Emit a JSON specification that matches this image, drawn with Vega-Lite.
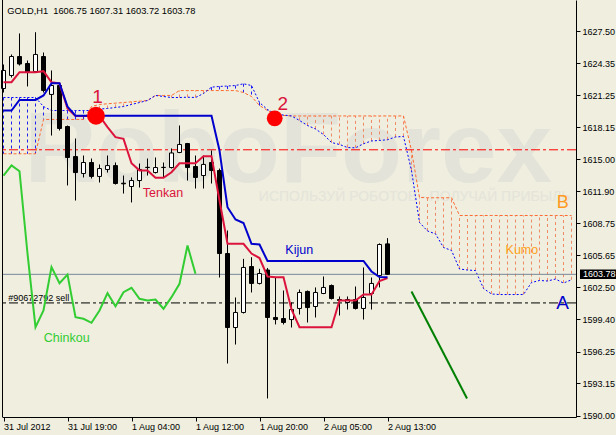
{
"$schema": "https://vega.github.io/schema/vega-lite/v6.json",
"width": 574, "height": 417,
"autosize": {"type": "none"},
"padding": {"left": 2, "top": 0, "right": 40, "bottom": 18},
"background": "#EFEEDF",
"config": {"view": {"stroke": null}, "font": "Liberation Sans", "scale": {"continuousPadding": 0}},
"datasets": {
"bars": [
{"i":0,"o":1621.91,"h":1624.25,"l":1621.52,"c":1623.67},
{"i":1,"o":1623.18,"h":1625.23,"l":1622.98,"c":1625.03},
{"i":2,"o":1625.03,"h":1627.28,"l":1624.15,"c":1624.30},
{"i":3,"o":1624.35,"h":1624.64,"l":1622.11,"c":1623.47},
{"i":4,"o":1623.57,"h":1627.40,"l":1623.47,"c":1625.23},
{"i":5,"o":1625.03,"h":1625.42,"l":1621.52,"c":1621.72},
{"i":6,"o":1621.33,"h":1623.67,"l":1617.32,"c":1622.20},
{"i":7,"o":1622.20,"h":1622.40,"l":1617.81,"c":1618.01},
{"i":8,"o":1618.20,"h":1618.30,"l":1612.45,"c":1615.18},
{"i":9,"o":1615.27,"h":1617.03,"l":1610.98,"c":1613.71},
{"i":10,"o":1613.62,"h":1615.37,"l":1613.23,"c":1614.69},
{"i":11,"o":1614.69,"h":1615.08,"l":1613.13,"c":1613.33},
{"i":12,"o":1613.33,"h":1614.50,"l":1612.74,"c":1614.10},
{"i":13,"o":1614.01,"h":1615.37,"l":1613.71,"c":1614.39},
{"i":14,"o":1614.39,"h":1614.69,"l":1612.54,"c":1612.64},
{"i":15,"o":1612.67,"h":1613.42,"l":1611.66,"c":1612.61},
{"i":16,"o":1612.35,"h":1613.23,"l":1610.79,"c":1612.93},
{"i":17,"o":1612.93,"h":1614.59,"l":1612.25,"c":1614.01},
{"i":18,"o":1614.20,"h":1615.08,"l":1613.42,"c":1614.22},
{"i":19,"o":1613.71,"h":1615.18,"l":1613.62,"c":1614.20},
{"i":20,"o":1614.20,"h":1614.69,"l":1613.23,"c":1614.22},
{"i":21,"o":1614.20,"h":1616.06,"l":1614.10,"c":1615.62},
{"i":22,"o":1615.67,"h":1618.30,"l":1615.60,"c":1616.45},
{"i":23,"o":1616.54,"h":1616.60,"l":1612.93,"c":1614.20},
{"i":24,"o":1614.30,"h":1615.37,"l":1612.15,"c":1613.23},
{"i":25,"o":1613.42,"h":1615.37,"l":1612.15,"c":1614.50},
{"i":26,"o":1614.69,"h":1615.86,"l":1612.64,"c":1613.91},
{"i":27,"o":1613.91,"h":1614.10,"l":1603.47,"c":1605.81},
{"i":28,"o":1605.81,"h":1608.06,"l":1595.08,"c":1598.59},
{"i":29,"o":1598.59,"h":1601.52,"l":1596.93,"c":1600.06},
{"i":30,"o":1600.06,"h":1605.29,"l":1599.96,"c":1604.45},
{"i":31,"o":1604.54,"h":1605.45,"l":1602.01,"c":1602.89},
{"i":32,"o":1602.89,"h":1604.32,"l":1602.79,"c":1603.86},
{"i":33,"o":1604.20,"h":1604.40,"l":1591.67,"c":1599.57},
{"i":34,"o":1599.57,"h":1603.47,"l":1598.89,"c":1599.37},
{"i":35,"o":1599.47,"h":1602.20,"l":1598.89,"c":1599.08},
{"i":36,"o":1599.37,"h":1601.03,"l":1598.59,"c":1600.35},
{"i":37,"o":1600.45,"h":1602.30,"l":1599.86,"c":1602.01},
{"i":38,"o":1602.11,"h":1602.20,"l":1599.08,"c":1600.54},
{"i":39,"o":1600.64,"h":1602.50,"l":1599.57,"c":1602.01},
{"i":40,"o":1601.91,"h":1603.57,"l":1601.85,"c":1602.50},
{"i":41,"o":1602.69,"h":1602.79,"l":1601.32,"c":1601.42},
{"i":42,"o":1601.32,"h":1601.62,"l":1599.76,"c":1601.23},
{"i":43,"o":1601.03,"h":1601.62,"l":1600.35,"c":1601.32},
{"i":44,"o":1601.32,"h":1602.59,"l":1600.35,"c":1600.45},
{"i":45,"o":1600.45,"h":1604.45,"l":1599.37,"c":1601.52},
{"i":46,"o":1601.91,"h":1603.47,"l":1600.35,"c":1602.89},
{"i":47,"o":1603.67,"h":1606.80,"l":1602.50,"c":1606.69},
{"i":48,"o":1606.75,"h":1607.31,"l":1603.72,"c":1603.78}
],
"ind": [
{"i":0,"t":1622.52,"k":1619.76},{"i":1,"t":1622.52,"k":1619.76},{"i":2,"t":1623.50,"k":1620.79},
{"i":3,"t":1623.50,"k":1620.79},{"i":4,"t":1623.50,"k":1620.79},{"i":5,"t":1623.60,"k":1621.23},
{"i":6,"t":1622.52,"k":1622.43},{"i":7,"t":1622.40,"k":1622.43},{"i":8,"t":1619.96,"k":1620.15},
{"i":9,"t":1619.23,"k":1619.25},{"i":10,"t":1619.23,"k":1619.25},{"i":11,"t":1619.23,"k":1619.25},
{"i":12,"t":1619.23,"k":1619.25},{"i":13,"t":1618.15,"k":1619.25},{"i":14,"t":1617.16,"k":1619.25},
{"i":15,"t":1617.00,"k":1619.25},{"i":16,"t":1614.62,"k":1619.25},{"i":17,"t":1613.91,"k":1619.25},
{"i":18,"t":1613.91,"k":1619.25},{"i":19,"t":1613.20,"k":1619.25},{"i":20,"t":1613.20,"k":1619.25},
{"i":21,"t":1613.74,"k":1619.25},{"i":22,"t":1614.62,"k":1619.25},{"i":23,"t":1614.62,"k":1619.25},
{"i":24,"t":1614.62,"k":1619.25},{"i":25,"t":1615.31,"k":1619.25},{"i":26,"t":1615.31,"k":1619.25},
{"i":27,"t":1610.98,"k":1615.86},{"i":28,"t":1606.76,"k":1610.33},{"i":29,"t":1606.76,"k":1609.13},
{"i":30,"t":1606.76,"k":1608.79},{"i":31,"t":1605.81,"k":1606.76},{"i":32,"t":1605.37,"k":1606.69},
{"i":33,"t":1603.57,"k":1605.08},{"i":34,"t":1603.50,"k":1605.08},{"i":35,"t":1603.50,"k":1605.08},
{"i":36,"t":1600.35,"k":1605.08},{"i":37,"t":1598.62,"k":1605.08},{"i":38,"t":1598.62,"k":1605.08},
{"i":39,"t":1598.62,"k":1605.08},{"i":40,"t":1598.62,"k":1605.08},{"i":41,"t":1598.62,"k":1605.08},
{"i":42,"t":1601.23,"k":1605.08},{"i":43,"t":1601.23,"k":1605.08},{"i":44,"t":1601.23,"k":1605.08},
{"i":45,"t":1601.81,"k":1605.08},{"i":46,"t":1601.81,"k":1604.06},{"i":47,"t":1603.13,"k":1603.52},
{"i":48,"t":1603.42,"k":1603.50}
],
"chinkou": [
{"i":0,"v":1613.42},{"i":1,"v":1614.40},{"i":2,"v":1613.84},{"i":3,"v":1605.81},{"i":4,"v":1598.62},
{"i":5,"v":1600.25},{"i":6,"v":1604.48},{"i":7,"v":1602.92},{"i":8,"v":1603.76},{"i":9,"v":1599.60},
{"i":10,"v":1599.44},{"i":11,"v":1599.05},{"i":12,"v":1600.25},{"i":13,"v":1601.94},{"i":14,"v":1600.67},
{"i":15,"v":1602.04},{"i":16,"v":1602.47},{"i":17,"v":1601.39},{"i":18,"v":1601.23},{"i":19,"v":1601.32},
{"i":20,"v":1600.42},{"i":21,"v":1601.55},{"i":22,"v":1602.86},{"i":23,"v":1606.59},{"i":24,"v":1603.83}
],
"cloud": [
{"i":0,"a":1621.03,"b":1615.54},{"i":1,"a":1621.03,"b":1615.54},{"i":2,"a":1621.03,"b":1615.54},
{"i":3,"a":1621.03,"b":1615.54},{"i":4,"a":1621.03,"b":1615.54},{"i":5,"a":1620.15,"b":1618.89},
{"i":6,"a":1619.76,"b":1618.89},{"i":7,"a":1619.76,"b":1618.89},{"i":8,"a":1619.76,"b":1618.89},
{"i":9,"a":1619.76,"b":1618.89},{"i":10,"a":1619.76,"b":1618.89},{"i":11,"a":1619.76,"b":1620.15},
{"i":12,"a":1619.91,"b":1620.35},{"i":13,"a":1619.96,"b":1620.42},{"i":14,"a":1620.06,"b":1620.48},
{"i":15,"a":1620.15,"b":1620.54},{"i":16,"a":1620.35,"b":1620.61},{"i":17,"a":1620.54,"b":1620.67},
{"i":18,"a":1620.74,"b":1620.74},{"i":19,"a":1621.23,"b":1621.23},{"i":20,"a":1621.13,"b":1621.23},
{"i":21,"a":1621.03,"b":1621.23},{"i":22,"a":1621.03,"b":1621.71},{"i":23,"a":1621.06,"b":1621.71},
{"i":24,"a":1621.03,"b":1621.71},{"i":25,"a":1621.42,"b":1621.71},{"i":26,"a":1622.04,"b":1621.71},
{"i":27,"a":1622.11,"b":1621.71},{"i":28,"a":1622.15,"b":1621.71},{"i":29,"a":1622.20,"b":1621.71},
{"i":30,"a":1622.37,"b":1621.52},{"i":31,"a":1622.20,"b":1621.13},{"i":32,"a":1620.54,"b":1620.25},
{"i":33,"a":1619.86,"b":1619.76},{"i":34,"a":1619.42,"b":1619.42},{"i":35,"a":1619.32,"b":1619.28},
{"i":36,"a":1619.23,"b":1619.23},{"i":37,"a":1618.79,"b":1619.23},{"i":38,"a":1618.30,"b":1619.23},
{"i":39,"a":1617.96,"b":1619.23},{"i":40,"a":1617.42,"b":1619.23},{"i":41,"a":1616.64,"b":1619.23},
{"i":42,"a":1616.45,"b":1619.23},{"i":43,"a":1616.15,"b":1619.23},{"i":44,"a":1616.12,"b":1619.23},
{"i":45,"a":1616.52,"b":1619.23},{"i":46,"a":1616.79,"b":1619.23},{"i":47,"a":1616.84,"b":1619.23},
{"i":48,"a":1616.91,"b":1619.23},{"i":49,"a":1617.18,"b":1619.23},{"i":50,"a":1617.23,"b":1619.23},
{"i":51,"a":1613.91,"b":1615.86},{"i":52,"a":1608.84,"b":1611.28},{"i":53,"a":1608.01,"b":1611.25},
{"i":54,"a":1607.73,"b":1611.25},{"i":55,"a":1606.40,"b":1611.25},{"i":56,"a":1606.11,"b":1611.25},
{"i":57,"a":1604.30,"b":1609.52},{"i":58,"a":1604.20,"b":1609.52},{"i":59,"a":1604.15,"b":1609.52},
{"i":60,"a":1602.40,"b":1609.52},{"i":61,"a":1601.86,"b":1609.52},{"i":62,"a":1601.81,"b":1609.52},
{"i":63,"a":1601.81,"b":1609.52},{"i":64,"a":1601.81,"b":1609.52},{"i":65,"a":1601.81,"b":1609.52},
{"i":66,"a":1602.98,"b":1609.52},{"i":67,"a":1603.18,"b":1609.52},{"i":68,"a":1603.13,"b":1609.52},
{"i":69,"a":1603.32,"b":1609.52},{"i":70,"a":1602.93,"b":1609.52},{"i":71,"a":1603.25,"b":1609.52}
]
},
"layer": [
{"data": {"values": [{"i": 35.6, "p": 1612.74, "txt": "RoboForex"}]},
 "mark": {"type": "text", "font": "Liberation Sans", "fontWeight": "bold", "fontSize": 100, "align": "center", "baseline": "alphabetic", "color": "#E3E3D9"},
 "encoding": {"x": {"field": "i", "type": "quantitative", "scale": {"domain": [-0.1875, 71.5625], "nice": false, "zero": false, "padding": 0},
   "axis": {"values": [0, 8, 16, 24, 32, 40, 48], "tickCount": 40, "labelExpr": "['31 Jul 2012','31 Jul 19:00','1 Aug 04:00','1 Aug 12:00','1 Aug 20:00','2 Aug 05:00','2 Aug 13:00'][round(datum.value/8)]",
     "title": null, "grid": false, "tickSize": 4, "labelAlign": "left", "labelBaseline": "alphabetic", "labelPadding": 8, "labelFontSize": 9, "labelFont": "Liberation Sans", "labelColor": "#000000", "domainColor": "#000000", "tickColor": "#000000", "labelOverlap": false, "labelFlush": false, "labelBound": false}},
  "y": {"field": "p", "type": "quantitative", "scale": {"domain": [1589.861, 1630.544], "nice": false, "zero": false},
   "axis": {"orient": "right", "values": [1590, 1593.15, 1596.25, 1599.4, 1602.5, 1605.65, 1608.75, 1611.9, 1615, 1618.15, 1621.25, 1624.35, 1627.5], "tickCount": 40, "format": ".2f",
     "title": null, "grid": false, "tickSize": 4, "labelPadding": 2, "labelFontSize": 9, "labelFont": "Liberation Sans", "labelColor": "#000000", "domainColor": "#000000", "tickColor": "#000000", "labelOverlap": false, "labelFlush": false, "labelBound": false}},
  "text": {"field": "txt"}}},
{"data": {"values": [{"i": 51.4, "p": 1610.93, "txt": "ИСПОЛЬЗУЙ РОБОТОВ - ПОЛУЧАЙ ПРИБЫЛЬ"}]},
 "mark": {"type": "text", "fontSize": 14, "align": "center", "baseline": "alphabetic", "color": "#E4E4DA"},
 "encoding": {"x": {"field": "i", "type": "quantitative", "scale": {"domain": [-0.1875, 71.5625], "nice": false, "zero": false, "padding": 0}},
  "y": {"field": "p", "type": "quantitative", "scale": {"domain": [1589.861, 1630.544], "nice": false, "zero": false}},
  "text": {"field": "txt"}}},
{"data": {"name": "cloud"},
 "mark": {"type": "rule", "strokeWidth": 1, "strokeDash": [3, 3]},
 "encoding": {"x": {"field": "i", "type": "quantitative", "scale": {"domain": [-0.1875, 71.5625], "nice": false, "zero": false, "padding": 0}},
  "y": {"field": "a", "type": "quantitative", "scale": {"domain": [1589.861, 1630.544], "nice": false, "zero": false}},
  "y2": {"field": "b"},
  "color": {"condition": {"test": "datum.a > datum.b", "value": "#2020F0"}, "value": "#F08A66"}}},
{"data": {"name": "cloud"},
 "mark": {"type": "line", "strokeWidth": 1, "strokeDash": [3, 2], "color": "#FF6A2E"},
 "encoding": {"x": {"field": "i", "type": "quantitative", "scale": {"domain": [-0.1875, 71.5625], "nice": false, "zero": false, "padding": 0}},
  "y": {"field": "b", "type": "quantitative", "scale": {"domain": [1589.861, 1630.544], "nice": false, "zero": false}}}},
{"data": {"name": "cloud"},
 "mark": {"type": "line", "strokeWidth": 1, "strokeDash": [2, 2], "color": "#0000FF"},
 "encoding": {"x": {"field": "i", "type": "quantitative", "scale": {"domain": [-0.1875, 71.5625], "nice": false, "zero": false, "padding": 0}},
  "y": {"field": "a", "type": "quantitative", "scale": {"domain": [1589.861, 1630.544], "nice": false, "zero": false}}}},
{"data": {"values": [{"p": 1615.93}]},
 "mark": {"type": "rule", "color": "#FF0000", "strokeWidth": 1, "strokeDash": [9, 3, 3, 3]},
 "encoding": {"y": {"field": "p", "type": "quantitative", "scale": {"domain": [1589.861, 1630.544], "nice": false, "zero": false}}}},
{"data": {"values": [{"p": 1600.99}]},
 "mark": {"type": "rule", "color": "#000000", "strokeWidth": 1, "strokeDash": [9, 3, 3, 3]},
 "encoding": {"y": {"field": "p", "type": "quantitative", "scale": {"domain": [1589.861, 1630.544], "nice": false, "zero": false}}}},
{"data": {"values": [{"p": 1603.78}]},
 "mark": {"type": "rule", "color": "#778899", "strokeWidth": 1},
 "encoding": {"y": {"field": "p", "type": "quantitative", "scale": {"domain": [1589.861, 1630.544], "nice": false, "zero": false}}}},
{"data": {"values": [{"i": 0.6, "p": 1601.2, "txt": "#90672792 sell"}]},
 "mark": {"type": "text", "fontSize": 9, "align": "left", "baseline": "alphabetic", "color": "#000000"},
 "encoding": {"x": {"field": "i", "type": "quantitative", "scale": {"domain": [-0.1875, 71.5625], "nice": false, "zero": false, "padding": 0}},
  "y": {"field": "p", "type": "quantitative", "scale": {"domain": [1589.861, 1630.544], "nice": false, "zero": false}},
  "text": {"field": "txt"}}},
{"data": {"name": "bars"},
 "mark": {"type": "rule", "color": "#000000", "strokeWidth": 1},
 "encoding": {"x": {"field": "i", "type": "quantitative", "scale": {"domain": [-0.1875, 71.5625], "nice": false, "zero": false, "padding": 0}},
  "y": {"field": "l", "type": "quantitative", "scale": {"domain": [1589.861, 1630.544], "nice": false, "zero": false}},
  "y2": {"field": "h"}}},
{"data": {"name": "bars"},
 "mark": {"type": "bar", "size": 4, "stroke": "#000000", "strokeWidth": 1, "orient": "vertical"},
 "encoding": {"x": {"field": "i", "type": "quantitative", "scale": {"domain": [-0.1875, 71.5625], "nice": false, "zero": false, "padding": 0}},
  "y": {"field": "o", "type": "quantitative", "scale": {"domain": [1589.861, 1630.544], "nice": false, "zero": false}},
  "y2": {"field": "c"},
  "fill": {"condition": {"test": "datum.c >= datum.o", "value": "#FFFFFF"}, "value": "#000000"}}},
{"data": {"name": "chinkou"},
 "mark": {"type": "line", "strokeWidth": 2, "color": "#32CD32"},
 "encoding": {"x": {"field": "i", "type": "quantitative", "scale": {"domain": [-0.1875, 71.5625], "nice": false, "zero": false, "padding": 0}},
  "y": {"field": "v", "type": "quantitative", "scale": {"domain": [1589.861, 1630.544], "nice": false, "zero": false}}}},
{"data": {"name": "ind"},
 "mark": {"type": "line", "strokeWidth": 2, "color": "#DC143C"},
 "encoding": {"x": {"field": "i", "type": "quantitative", "scale": {"domain": [-0.1875, 71.5625], "nice": false, "zero": false, "padding": 0}},
  "y": {"field": "t", "type": "quantitative", "scale": {"domain": [1589.861, 1630.544], "nice": false, "zero": false}}}},
{"data": {"name": "ind"},
 "mark": {"type": "line", "strokeWidth": 2, "color": "#0000CD"},
 "encoding": {"x": {"field": "i", "type": "quantitative", "scale": {"domain": [-0.1875, 71.5625], "nice": false, "zero": false, "padding": 0}},
  "y": {"field": "k", "type": "quantitative", "scale": {"domain": [1589.861, 1630.544], "nice": false, "zero": false}}}},
{"data": {"values": [{"i": 51.0, "p": 1602.10}, {"i": 57.94, "p": 1591.67}]},
 "mark": {"type": "line", "strokeWidth": 2, "color": "#008000"},
 "encoding": {"x": {"field": "i", "type": "quantitative", "scale": {"domain": [-0.1875, 71.5625], "nice": false, "zero": false, "padding": 0}},
  "y": {"field": "p", "type": "quantitative", "scale": {"domain": [1589.861, 1630.544], "nice": false, "zero": false}}}},
{"data": {"values": [{"i": 11.56, "p": 1619.25}]},
 "mark": {"type": "point", "shape": "circle", "filled": true, "size": 320, "color": "#FF0000", "opacity": 1},
 "encoding": {"x": {"field": "i", "type": "quantitative", "scale": {"domain": [-0.1875, 71.5625], "nice": false, "zero": false, "padding": 0}},
  "y": {"field": "p", "type": "quantitative", "scale": {"domain": [1589.861, 1630.544], "nice": false, "zero": false}}}},
{"data": {"values": [{"i": 33.9, "p": 1619.0}]},
 "mark": {"type": "point", "shape": "circle", "filled": true, "size": 250, "color": "#FF0000", "opacity": 1},
 "encoding": {"x": {"field": "i", "type": "quantitative", "scale": {"domain": [-0.1875, 71.5625], "nice": false, "zero": false, "padding": 0}},
  "y": {"field": "p", "type": "quantitative", "scale": {"domain": [1589.861, 1630.544], "nice": false, "zero": false}}}},
{"data": {"values": [{"i": 11.75, "p": 1620.54, "txt": "1"}, {"i": 34.9, "p": 1619.81, "txt": "2"}]},
 "mark": {"type": "text", "fontSize": 19, "align": "center", "baseline": "alphabetic", "color": "#DC143C"},
 "encoding": {"x": {"field": "i", "type": "quantitative", "scale": {"domain": [-0.1875, 71.5625], "nice": false, "zero": false, "padding": 0}},
  "y": {"field": "p", "type": "quantitative", "scale": {"domain": [1589.861, 1630.544], "nice": false, "zero": false}},
  "text": {"field": "txt"}}},
{"data": {"values": [{"i": 19.94, "p": 1611.37, "txt": "Tenkan"}]},
 "mark": {"type": "text", "fontSize": 12.5, "align": "center", "baseline": "alphabetic", "color": "#DC143C"},
 "encoding": {"x": {"field": "i", "type": "quantitative", "scale": {"domain": [-0.1875, 71.5625], "nice": false, "zero": false, "padding": 0}},
  "y": {"field": "p", "type": "quantitative", "scale": {"domain": [1589.861, 1630.544], "nice": false, "zero": false}},
  "text": {"field": "txt"}}},
{"data": {"values": [{"i": 36.97, "p": 1605.81, "txt": "Kijun"}]},
 "mark": {"type": "text", "fontSize": 12.5, "align": "center", "baseline": "alphabetic", "color": "#0000CD"},
 "encoding": {"x": {"field": "i", "type": "quantitative", "scale": {"domain": [-0.1875, 71.5625], "nice": false, "zero": false, "padding": 0}},
  "y": {"field": "p", "type": "quantitative", "scale": {"domain": [1589.861, 1630.544], "nice": false, "zero": false}},
  "text": {"field": "txt"}}},
{"data": {"values": [{"i": 7.9, "p": 1597.13, "txt": "Chinkou"}]},
 "mark": {"type": "text", "fontSize": 12.5, "align": "center", "baseline": "alphabetic", "color": "#32CD32"},
 "encoding": {"x": {"field": "i", "type": "quantitative", "scale": {"domain": [-0.1875, 71.5625], "nice": false, "zero": false, "padding": 0}},
  "y": {"field": "p", "type": "quantitative", "scale": {"domain": [1589.861, 1630.544], "nice": false, "zero": false}},
  "text": {"field": "txt"}}},
{"data": {"values": [{"i": 64.8, "p": 1605.81, "txt": "Kumo"}]},
 "mark": {"type": "text", "fontSize": 12.5, "align": "center", "baseline": "alphabetic", "color": "#FFA020"},
 "encoding": {"x": {"field": "i", "type": "quantitative", "scale": {"domain": [-0.1875, 71.5625], "nice": false, "zero": false, "padding": 0}},
  "y": {"field": "p", "type": "quantitative", "scale": {"domain": [1589.861, 1630.544], "nice": false, "zero": false}},
  "text": {"field": "txt"}}},
{"data": {"values": [{"i": 69.9, "p": 1610.25, "txt": "B"}]},
 "mark": {"type": "text", "fontSize": 18, "align": "center", "baseline": "alphabetic", "color": "#FF9A1E"},
 "encoding": {"x": {"field": "i", "type": "quantitative", "scale": {"domain": [-0.1875, 71.5625], "nice": false, "zero": false, "padding": 0}},
  "y": {"field": "p", "type": "quantitative", "scale": {"domain": [1589.861, 1630.544], "nice": false, "zero": false}},
  "text": {"field": "txt"}}},
{"data": {"values": [{"i": 69.9, "p": 1600.35, "txt": "A"}]},
 "mark": {"type": "text", "fontSize": 19, "align": "center", "baseline": "alphabetic", "color": "#0000CD"},
 "encoding": {"x": {"field": "i", "type": "quantitative", "scale": {"domain": [-0.1875, 71.5625], "nice": false, "zero": false, "padding": 0}},
  "y": {"field": "p", "type": "quantitative", "scale": {"domain": [1589.861, 1630.544], "nice": false, "zero": false}},
  "text": {"field": "txt"}}},
{"data": {"values": [{"i": 0.475, "p": 1629.13, "txt": "GOLD,H1\u00a0 1606.75 1607.31 1603.72 1603.78"}]},
 "mark": {"type": "text", "fontSize": 9.3, "align": "left", "baseline": "alphabetic", "color": "#000000"},
 "encoding": {"x": {"field": "i", "type": "quantitative", "scale": {"domain": [-0.1875, 71.5625], "nice": false, "zero": false, "padding": 0}},
  "y": {"field": "p", "type": "quantitative", "scale": {"domain": [1589.861, 1630.544], "nice": false, "zero": false}},
  "text": {"field": "txt"}}},
{"data": {"values": [{"i": 72.06, "i2": 76.56, "p": 1604.25, "p2": 1603.32}]},
 "mark": {"type": "rect", "color": "#000000"},
 "encoding": {"x": {"field": "i", "type": "quantitative", "scale": {"domain": [-0.1875, 71.5625], "nice": false, "zero": false, "padding": 0}},
  "x2": {"field": "i2"},
  "y": {"field": "p", "type": "quantitative", "scale": {"domain": [1589.861, 1630.544], "nice": false, "zero": false}},
  "y2": {"field": "p2"}}},
{"data": {"values": [{"i": 72.44, "p": 1603.78, "txt": "1603.78"}]},
 "mark": {"type": "text", "fontSize": 9, "align": "left", "baseline": "middle", "color": "#FFFFFF"},
 "encoding": {"x": {"field": "i", "type": "quantitative", "scale": {"domain": [-0.1875, 71.5625], "nice": false, "zero": false, "padding": 0}},
  "y": {"field": "p", "type": "quantitative", "scale": {"domain": [1589.861, 1630.544], "nice": false, "zero": false}},
  "text": {"field": "txt"}}},
{"data": {"values": [{"i": -0.125}]},
 "mark": {"type": "rule", "color": "#000000", "strokeWidth": 1},
 "encoding": {"x": {"field": "i", "type": "quantitative", "scale": {"domain": [-0.1875, 71.5625], "nice": false, "zero": false, "padding": 0}}}}
]
}
